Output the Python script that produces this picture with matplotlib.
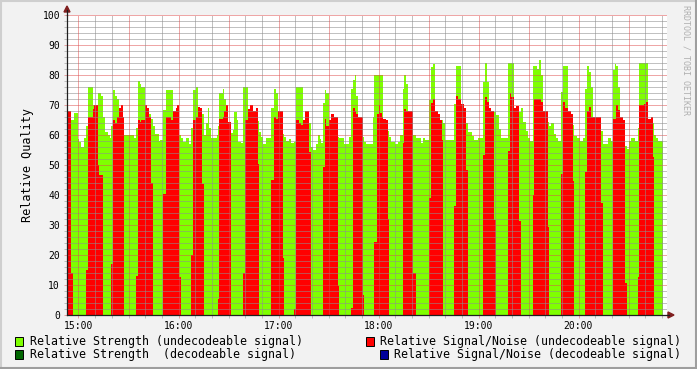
import matplotlib
matplotlib.use("Agg")
import matplotlib.pyplot as plt
from matplotlib.patches import Rectangle, Polygon
from matplotlib.lines import Line2D
from matplotlib.ticker import MultipleLocator, FixedLocator
import numpy as np

# minutes after 14:00, start of each step
minutes = [
    53.1, 55.5, 56.7, 57.5, 59.7, 60.5, 61.7, 63.3, 64.5, 65.7, 68.7, 69.5, 71.7, 72.5, 73.5, 74.5,
    76.1, 77.5, 78.9, 79.7, 80.7, 81.7, 83.1, 84.3, 85.5, 86.7, 87.3, 93.1, 94.5, 95.7, 96.7, 97.7,
    100.1, 100.9, 102.5, 103.7, 104.5, 106.1, 108.1, 108.9, 110.9, 112.5, 115.3, 116.9, 118.3, 119.3,
    120.3, 121.5, 122.5, 124.5, 126.1, 127.5, 128.9, 130.5, 131.9, 132.9, 134.3, 135.1, 136.7, 137.9,
    138.5, 139.5, 142.9, 143.9, 144.5, 146.5, 147.3, 148.5, 149.9, 151.3, 152.5, 153.3, 154.9, 155.9,
    157.5, 158.9, 159.9, 161.9, 163.1, 164.7, 166.3, 167.7, 168.3, 169.7, 170.9, 172.5, 175.7, 177.1,
    178.7, 179.7, 182.7, 183.3, 184.7, 186.5, 187.7, 189.3, 190.5, 192.1, 193.7, 194.9, 195.7, 198.1,
    199.3, 200.9, 202.5, 203.7, 204.9, 205.7, 206.9, 207.7, 208.7, 210.1, 211.7, 213.3, 215.7, 216.5,
    219.3, 222.1, 223.3, 224.5, 225.7, 226.5, 227.7, 230.5, 231.3, 232.5, 236.9, 237.5, 238.9, 240.1,
    240.9, 242.1, 242.9, 244.5, 245.7, 246.5, 247.7, 250.1, 251.7, 252.9, 254.5, 255.3, 256.5, 257.5,
    260.9, 262.5, 265.5, 266.5, 267.7, 270.1, 271.5, 272.5, 274.1, 275.5, 276.9, 278.1, 278.9, 280.1,
    285.5, 286.5, 287.7, 289.3, 291.3, 292.5, 293.7, 296.3, 297.3, 299.7, 302.9, 303.7, 305.3, 306.3,
    307.7, 309.3, 310.5, 312.1, 313.3, 317.7, 318.9, 319.7, 321.3, 322.5, 324.3, 325.3, 326.9, 328.3,
    329.7, 330.9, 332.5, 333.3, 334.9, 336.5, 337.7, 338.9, 341.7, 342.5, 343.7, 345.3, 346.5, 347.7,
    349.7, 350.7, 351.7, 353.7, 355.3, 356.5, 357.3, 358.9, 361.1, 362.5, 364.1, 364.9, 366.1, 367.3,
    368.9, 373.3, 374.5, 377.7, 379.3, 380.9, 381.7, 382.5, 383.7, 385.1, 386.5, 388.1, 389.1, 390.1,
    391.3, 394.1, 395.7, 396.5, 399.1, 400.5, 401.7, 403.3, 404.7, 405.3, 406.5, 407.7, 410.5,
]

# Relative Strength (undecodeable signal)
strength = [
    68, 65, 65, 67.4, 58.6, 57.8, 56, 59, 63, 76, 70, 70, 74, 74, 73, 66,
    61, 60, 59, 63, 75, 73, 72, 69, 70, 66, 60, 59, 62.5, 78, 77, 76,
    70, 69, 67, 65.4, 63, 60.5, 58, 58.3, 68.3, 75, 75, 68, 69, 70,
    60, 59, 57.8, 59, 57, 62.5, 75, 76, 69.4, 69, 67, 60, 64, 69,
    62.5, 59, 60, 63, 74, 75.5, 72, 70, 64.4, 60.8, 61.7, 67.8, 65, 57.8,
    57.2, 76, 76, 68.6, 70, 68, 69, 64.7, 61, 59.4, 57, 59, 69, 75.5,
    74, 68, 60.5, 59.4, 58, 58.7, 57.2, 57.8, 76, 76, 76, 65, 68, 64,
    56, 55, 57, 60, 58.6, 57.2, 70.8, 75, 74, 65, 67, 66, 59.4, 59,
    57, 59.4, 75.5, 78.5, 80, 73, 66, 59.4, 57.8, 57, 66, 80, 80, 80,
    80, 80, 65.5, 65, 61.4, 59.2, 57.8, 57, 57.8, 60, 75.5, 80, 77, 68,
    60, 59, 57.2, 59, 58.3, 71.7, 82.8, 83.7, 68, 67, 65, 65, 64, 58.3,
    70.5, 83, 83, 70.5, 69, 64, 61, 59.7, 58.3, 59, 77.8, 84, 77.8, 69,
    68, 67.8, 66.7, 62, 59, 84, 84, 84, 69, 69.7, 67.8, 69, 64.4, 61.3,
    59, 58, 83, 83, 82, 85, 80, 68, 64.4, 63, 64, 60.2, 59, 58,
    74.4, 83, 83, 68, 67, 63.3, 59.8, 59, 58, 59, 75.5, 83, 81, 76,
    66, 61.4, 57, 59, 58, 81.7, 83.7, 83, 76, 66, 65, 56.3, 55.2, 58,
    59, 58, 62.5, 84, 84, 84, 65.2, 66, 64, 60, 59, 58, 58,
]

# Relative Signal/Noise (undecodeable signal)
snr = [
    68, 14, 0, 0, 0, 0, 0, 0, 15, 66, 68.7, 70, 50, 46.7, 46.7, 0,
    0, 0, 0, 17, 65, 64, 66, 69, 70, 66, 0, 0, 13, 65, 64.3, 65,
    70, 69, 66, 44, 0, 0, 0, 0, 40.5, 66, 65, 68, 69, 70,
    12.8, 0, 0, 0, 0, 20, 65, 66, 69.4, 69, 43.7, 0, 0, 0,
    0, 0, 0, 5.5, 65.2, 66, 68, 70, 64.4, 0, 0, 0, 0, 0,
    0, 14, 65, 68.6, 70, 68, 69, 50.5, 0, 0, 0, 0, 45, 66,
    65.2, 68, 19, 0, 0, 0, 0, 2, 65, 64, 63.3, 65, 68, 54.4,
    0, 0, 0, 0, 0, 0, 49.4, 65.5, 63, 65, 67, 66, 9.7, 0,
    0, 0, 2.2, 69, 68, 67, 66, 6.7, 0, 0, 0, 24.4, 67, 70,
    67.4, 66, 65.5, 65, 32, 0, 0, 0, 0, 0, 57.4, 68.6, 68, 68,
    14, 0, 0, 0, 0, 39, 70.8, 72, 68, 67, 65, 58.3, 0, 0,
    36.3, 73, 72, 70.5, 69, 48.3, 0, 0, 0, 0, 53.3, 72.6, 71, 69,
    68, 31.7, 0, 0, 0, 54.8, 73.9, 72.8, 69, 69.7, 31.3, 0, 0, 0,
    0, 0, 40, 72, 72, 72, 71, 68, 29.4, 0, 0, 0, 0, 0,
    47, 71, 69, 68, 67, 44.7, 0, 0, 0, 0, 47.7, 68, 69.4, 66,
    66, 37.2, 0, 0, 0, 65.2, 65.2, 70, 68.3, 66, 65, 10.8, 0, 0,
    0, 0, 12.6, 70, 70.5, 71, 65.2, 66, 52.8, 0, 0, 0, 0,
]

hour_ticks = [60, 120, 180, 240, 300, 360]
hour_labels = ["15:00", "16:00", "17:00", "18:00", "19:00", "20:00"]

legend_items = [
    ("Relative Strength (undecodeable signal)", "#7fff00"),
    ("Relative Signal/Noise (undecodeable signal)", "#ff0000"),
    ("Relative Strength  (decodeable signal)", "#006600"),
    ("Relative Signal/Noise (decodeable signal)", "#000099"),
]

W, H = 697, 369
BACK = "#f2f2f2"
GRID = (0.56, 0.56, 0.56, 0.55)
MGRID = (0.87, 0.31, 0.31, 0.5)
ARROW = (0.5, 0.12, 0.12)
AXIS = (0.12, 0.12, 0.12)
MONO = "DejaVu Sans Mono"


def fx(px):
    return px / W


def fy(py):
    return 1 - py / H


fig = plt.figure(figsize=(W / 100, H / 100), dpi=100, facecolor=BACK)
ax = fig.add_axes([fx(67), fy(315), fx(667) - fx(67), fy(15) - fy(315)])
ax.set_facecolor("white")

ax.fill_between(minutes, 0, strength, step="post", color="#7fff00", lw=0, zorder=1)
ax.fill_between(minutes, 0, snr, step="post", color="#ff0000", lw=0, zorder=1.1)

ax.set_xlim(53.1, 413.1)
ax.set_ylim(0, 100)

ax.xaxis.set_major_locator(FixedLocator(hour_ticks))
ax.set_xticklabels(hour_labels)
ax.xaxis.set_minor_locator(MultipleLocator(10))
ax.yaxis.set_major_locator(MultipleLocator(10))
ax.yaxis.set_minor_locator(MultipleLocator(2))

# grid drawn above the areas, like rrdtool
dots = (0, (1, 1))
for v in np.arange(2, 100.1, 2):
    col = MGRID if round(v) % 10 == 0 else GRID
    ax.axhline(v, color=col, lw=0.72, ls=dots, zorder=3, antialiased=False)
for m in np.arange(60, 413, 10):
    col = MGRID if round(m) % 30 == 0 else GRID
    ax.axvline(m, color=col, lw=0.72, ls=dots, zorder=3, antialiased=False)

for s in ["top", "right"]:
    ax.spines[s].set_visible(False)
for s in ["left", "bottom"]:
    ax.spines[s].set_color(AXIS)
    ax.spines[s].set_linewidth(0.9)
    ax.spines[s].set_zorder(4)

ax.tick_params(axis="both", which="both", direction="out", colors=MGRID, length=2, width=0.7,
               labelcolor="black", labelsize=7)
ax.tick_params(axis="both", which="minor", colors=GRID, length=2)
ax.tick_params(axis="y", pad=3)
ax.tick_params(axis="x", pad=2)
for lab in ax.get_xticklabels() + ax.get_yticklabels():
    lab.set_fontfamily(MONO)

ax.set_ylabel("Relative Quality", fontfamily=MONO, fontsize=8.5, labelpad=6)

# axis arrows
fig.add_artist(Polygon([[fx(64), fy(12)], [fx(70), fy(12)], [fx(67), fy(6)]], closed=True,
                       color=ARROW, transform=fig.transFigure))
fig.add_artist(Line2D([fx(67), fx(67)], [fy(15), fy(10)], color=AXIS, lw=0.9))
fig.add_artist(Polygon([[fx(668), fy(312)], [fx(668), fy(318)], [fx(674), fy(315)]], closed=True,
                       color=ARROW, transform=fig.transFigure))
fig.add_artist(Line2D([fx(667), fx(669)], [fy(315), fy(315)], color=AXIS, lw=0.9))

# legend
legend_pos = [(15, 30, 341.5), (366, 380, 341.5), (15, 30, 354.5), (380, 394, 354.5)]
for (label, color), (bx, tx, ty) in zip(legend_items, legend_pos):
    fig.add_artist(Rectangle((fx(bx), fy(ty + 4.5)), fx(8), 9 / H, facecolor=color,
                             edgecolor="black", lw=0.7, transform=fig.transFigure))
    fig.text(fx(tx), fy(ty), label, fontfamily=MONO, fontsize=8.35, va="center", ha="left")

fig.text(fx(686), fy(5), "RRDTOOL / TOBI OETIKER", rotation=270, fontfamily=MONO, fontsize=6.0,
         color="#b0b0b0", va="top", ha="center")

# outer shade border
fig.add_artist(Line2D([0, 1], [fy(0.5), fy(0.5)], color="#cfcfcf", lw=1.5))
fig.add_artist(Line2D([fx(0.5), fx(0.5)], [0, 1], color="#cfcfcf", lw=1.5))
fig.add_artist(Line2D([0, 1], [fy(368), fy(368)], color="#9e9e9e", lw=1.5))
fig.add_artist(Line2D([fx(696), fx(696)], [0, 1], color="#9e9e9e", lw=1.5))

fig.savefig("out.png", dpi=100, facecolor=BACK)
